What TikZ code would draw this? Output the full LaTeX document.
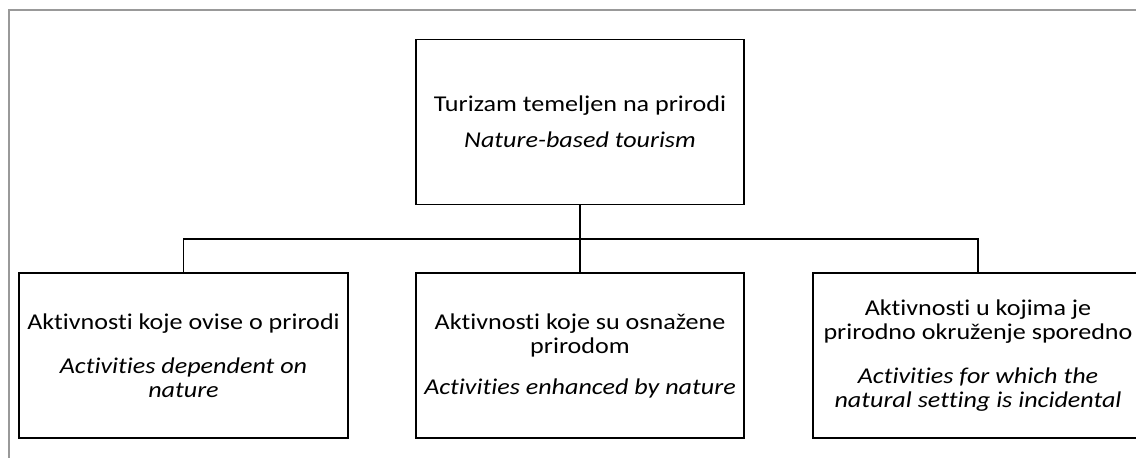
\documentclass[tikz,border=0pt]{standalone}
\usepackage{fontspec}
\setmainfont{Carlito}[FakeStretch=1.155, Ligatures=NoCommon]
\begin{document}
\begin{tikzpicture}[x=1pt,y=-1pt,
  box/.style={draw=black, line width=1.8pt, align=center, inner sep=0pt, minimum height=165pt},
  link/.style={draw=black, line width=1.8pt},
  frameline/.style={draw=black!40, line width=1.3pt},
  txt/.style={font=\fontsize{22.6}{24}\selectfont}]
\useasboundingbox (0,0) rectangle (1136,458);
\draw[frameline] (1136,10) -- (9,10) -- (9,458);
\node[box, minimum width=328pt, txt] (top) at (580,122)
  {Turizam temeljen na prirodi\\[12pt]\textit{Nature-based tourism}};
\node[box, minimum width=329pt, txt] (left) at (183.5,355.5)
  {Aktivnosti koje ovise o prirodi\\[20pt]\textit{Activities dependent on}\\\textit{nature}};
\node[box, minimum width=328pt, txt] (mid) at (580,355.5)
  {Aktivnosti koje su osnažene\\prirodom\\[17pt]\textit{Activities enhanced by nature}};
\node[box, minimum width=330pt, txt] (right) at (978,355.5)
  {Aktivnosti u kojima je\\prirodno okruženje sporedno\\[20pt]\textit{Activities for which the}\\\textit{natural setting is incidental}};
\coordinate (bus) at (580,239);
\draw[link] (top.south) -- (bus);
\draw[link] (bus) -- (mid.north);
\draw[link] (left.north) |- (bus) -| (right.north);
\end{tikzpicture}
\end{document}
